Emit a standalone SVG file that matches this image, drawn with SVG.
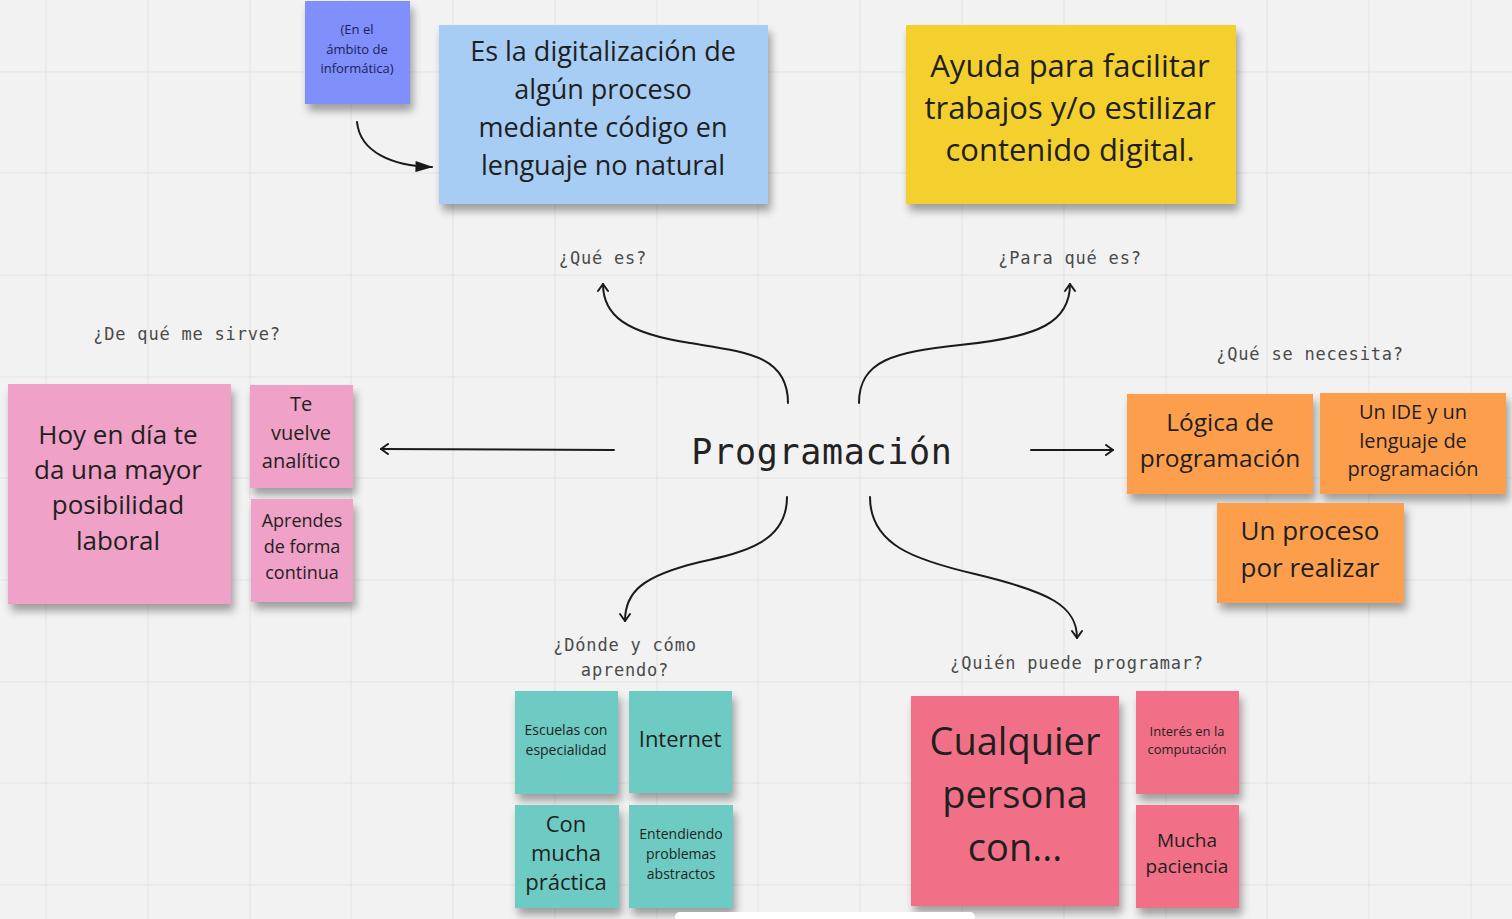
<svg xmlns="http://www.w3.org/2000/svg" width="1512" height="919" viewBox="0 0 1512 919">
<defs>
<style>
.grid line{stroke:#e3e3e3;stroke-width:1}
.note{font-family:"Open Sans","Noto Sans",sans-serif;fill:#1f1f1f;text-anchor:middle}
.lbl{font-family:"DejaVu Sans Mono","Liberation Mono",monospace;font-size:17px;letter-spacing:0.8px;fill:#4a4a4a;text-anchor:middle}
.conn path{fill:none;stroke:#1a1a1a;stroke-width:2;stroke-linecap:round}
.sh{filter:url(#shadow)}
</style>
<filter id="shadow" x="-10%" y="-10%" width="120%" height="130%">
<feGaussianBlur in="SourceAlpha" stdDeviation="4"/>
<feOffset dx="3" dy="7" result="b"/>
<feComponentTransfer><feFuncA type="linear" slope="0.35"/></feComponentTransfer>
<feMerge><feMergeNode/><feMergeNode in="SourceGraphic"/></feMerge>
</filter>
<marker id="open" viewBox="0 0 12 12" refX="10" refY="6" markerWidth="12" markerHeight="12" markerUnits="userSpaceOnUse" orient="auto">
<path d="M3,1 L10,6 L3,11" fill="none" stroke="#1a1a1a" stroke-width="2" stroke-linecap="round" stroke-linejoin="round"/>
</marker>
<marker id="solid" viewBox="0 0 16 10" refX="15" refY="5" markerWidth="18" markerHeight="11" markerUnits="userSpaceOnUse" orient="auto">
<path d="M0,0 L16,5 L0,10 Z" fill="#1a1a1a"/>
</marker>
</defs>
<rect width="1512" height="919" fill="#f2f2f2"/>
<g class="grid">
<line x1="46" y1="0" x2="46" y2="919"/><line x1="148" y1="0" x2="148" y2="919"/><line x1="250" y1="0" x2="250" y2="919"/><line x1="351" y1="0" x2="351" y2="919"/><line x1="453" y1="0" x2="453" y2="919"/><line x1="555" y1="0" x2="555" y2="919"/><line x1="657" y1="0" x2="657" y2="919"/><line x1="758" y1="0" x2="758" y2="919"/><line x1="860" y1="0" x2="860" y2="919"/><line x1="962" y1="0" x2="962" y2="919"/><line x1="1064" y1="0" x2="1064" y2="919"/><line x1="1166" y1="0" x2="1166" y2="919"/><line x1="1267" y1="0" x2="1267" y2="919"/><line x1="1369" y1="0" x2="1369" y2="919"/><line x1="1471" y1="0" x2="1471" y2="919"/>
<line x1="0" y1="72" x2="1512" y2="72"/><line x1="0" y1="173" x2="1512" y2="173"/><line x1="0" y1="275" x2="1512" y2="275"/><line x1="0" y1="377" x2="1512" y2="377"/><line x1="0" y1="478" x2="1512" y2="478"/><line x1="0" y1="580" x2="1512" y2="580"/><line x1="0" y1="682" x2="1512" y2="682"/><line x1="0" y1="783" x2="1512" y2="783"/><line x1="0" y1="885" x2="1512" y2="885"/>
</g>

<g class="conn" id="connectors">
<path d="M357,122 C360,152 392,166 432,167" stroke-width="1.5" marker-end="url(#solid)"/>
<path d="M788,403 C788,355 745,352 690,343 C625,333 603,315 603,284" marker-end="url(#open)"/>
<path d="M859,403 C859,360 895,352 960,345 C1040,337 1070,322 1070,284" marker-end="url(#open)"/>
<path d="M787,497 C787,542 745,552 700,562 C642,576 625,592 625,621" marker-end="url(#open)"/>
<path d="M870,497 C870,545 915,560 975,574 C1050,592 1077,606 1077,638" marker-end="url(#open)"/>
<path d="M614,450 L381,449" marker-end="url(#open)"/>
<path d="M1031,450 L1113,450" marker-end="url(#open)"/>
</g>

<g id="center">
<text x="822" y="464" font-family="DejaVu Sans Mono,Liberation Mono,monospace" font-size="35" letter-spacing="0.7" fill="#222" text-anchor="middle">Programación</text>
</g>

<g id="labels">
<text class="lbl" x="603" y="264">¿Qué es?</text>
<text class="lbl" x="1070" y="264">¿Para qué es?</text>
<text class="lbl" x="187" y="340">¿De qué me sirve?</text>
<text class="lbl" x="1310" y="360">¿Qué se necesita?</text>
<text class="lbl" x="625" y="651">¿Dónde y cómo</text>
<text class="lbl" x="625" y="676">aprendo?</text>
<text class="lbl" x="1077" y="669">¿Quién puede programar?</text>
</g>

<g id="note-ambito">
<rect class="sh" x="305" y="1" width="105" height="103" fill="#7f8ffb"/>
<text class="note" font-size="13" style="fill:#1c1f5c"><tspan x="357" y="34">(En el</tspan><tspan x="357" y="54">ámbito de</tspan><tspan x="357" y="73">informática)</tspan></text>
</g>
<g id="note-que-es">
<rect class="sh" x="439" y="25" width="329" height="179" fill="#a7cdf5"/>
<text class="note" font-size="27"><tspan x="603" y="61">Es la digitalización de</tspan><tspan x="603" y="99">algún proceso</tspan><tspan x="603" y="137">mediante código en</tspan><tspan x="603" y="175">lenguaje no natural</tspan></text>
</g>
<g id="note-para-que">
<rect class="sh" x="906" y="25" width="330" height="179" fill="#f4d02f"/>
<text class="note" font-size="31"><tspan x="1070" y="77">Ayuda para facilitar</tspan><tspan x="1070" y="119">trabajos y/o estilizar</tspan><tspan x="1070" y="161">contenido digital.</tspan></text>
</g>
<g id="note-hoy">
<rect class="sh" x="8" y="384" width="223" height="220" fill="#efa1c7"/>
<text class="note" font-size="26"><tspan x="118" y="444">Hoy en día te</tspan><tspan x="118" y="479">da una mayor</tspan><tspan x="118" y="514">posibilidad</tspan><tspan x="118" y="550">laboral</tspan></text>
</g>
<g id="note-analitico">
<rect class="sh" x="250" y="385" width="103" height="103" fill="#efa1c7"/>
<text class="note" font-size="20"><tspan x="301" y="411">Te</tspan><tspan x="301" y="440">vuelve</tspan><tspan x="301" y="468">analítico</tspan></text>
</g>
<g id="note-aprendes">
<rect class="sh" x="251" y="499" width="102" height="103" fill="#efa1c7"/>
<text class="note" font-size="18"><tspan x="302" y="527">Aprendes</tspan><tspan x="302" y="553">de forma</tspan><tspan x="302" y="579">continua</tspan></text>
</g>
<g id="note-logica">
<rect class="sh" x="1127" y="394" width="186" height="100" fill="#fd9e4d"/>
<text class="note" font-size="24.5"><tspan x="1220" y="431">Lógica de</tspan><tspan x="1220" y="467">programación</tspan></text>
</g>
<g id="note-ide">
<rect class="sh" x="1320" y="393" width="186" height="101" fill="#fd9e4d"/>
<text class="note" font-size="20"><tspan x="1413" y="419">Un IDE y un</tspan><tspan x="1413" y="448">lenguaje de</tspan><tspan x="1413" y="476">programación</tspan></text>
</g>
<g id="note-proceso">
<rect class="sh" x="1217" y="503" width="187" height="100" fill="#fd9e4d"/>
<text class="note" font-size="26"><tspan x="1310" y="540">Un proceso</tspan><tspan x="1310" y="577">por realizar</tspan></text>
</g>
<g id="note-escuelas">
<rect class="sh" x="515" y="691" width="103" height="103" fill="#6ecbc3"/>
<text class="note" font-size="14"><tspan x="566" y="735">Escuelas con</tspan><tspan x="566" y="755">especialidad</tspan></text>
</g>
<g id="note-internet">
<rect class="sh" x="629" y="691" width="103" height="102" fill="#6ecbc3"/>
<text class="note" font-size="22"><tspan x="680" y="747">Internet</tspan></text>
</g>
<g id="note-practica">
<rect class="sh" x="515" y="805" width="104" height="103" fill="#6ecbc3"/>
<text class="note" font-size="22"><tspan x="566" y="832">Con</tspan><tspan x="566" y="861">mucha</tspan><tspan x="566" y="890">práctica</tspan></text>
</g>
<g id="note-abstractos">
<rect class="sh" x="629" y="805" width="104" height="103" fill="#6ecbc3"/>
<text class="note" font-size="14"><tspan x="681" y="839">Entendiendo</tspan><tspan x="681" y="859">problemas</tspan><tspan x="681" y="879">abstractos</tspan></text>
</g>
<g id="note-cualquier">
<rect class="sh" x="911" y="696" width="208" height="210" fill="#f27087"/>
<text class="note" font-size="38"><tspan x="1015" y="755">Cualquier</tspan><tspan x="1015" y="808">persona</tspan><tspan x="1015" y="861">con...</tspan></text>
</g>
<g id="note-interes">
<rect class="sh" x="1136" y="691" width="103" height="103" fill="#f27087"/>
<text class="note" font-size="13"><tspan x="1187" y="736">Interés en la</tspan><tspan x="1187" y="754">computación</tspan></text>
</g>
<g id="note-paciencia">
<rect class="sh" x="1136" y="805" width="103" height="103" fill="#f27087"/>
<text class="note" font-size="19"><tspan x="1187" y="847">Mucha</tspan><tspan x="1187" y="873">paciencia</tspan></text>
</g>
<rect x="675" y="912" width="300" height="14" rx="5" fill="#ffffff"/>
</svg>
